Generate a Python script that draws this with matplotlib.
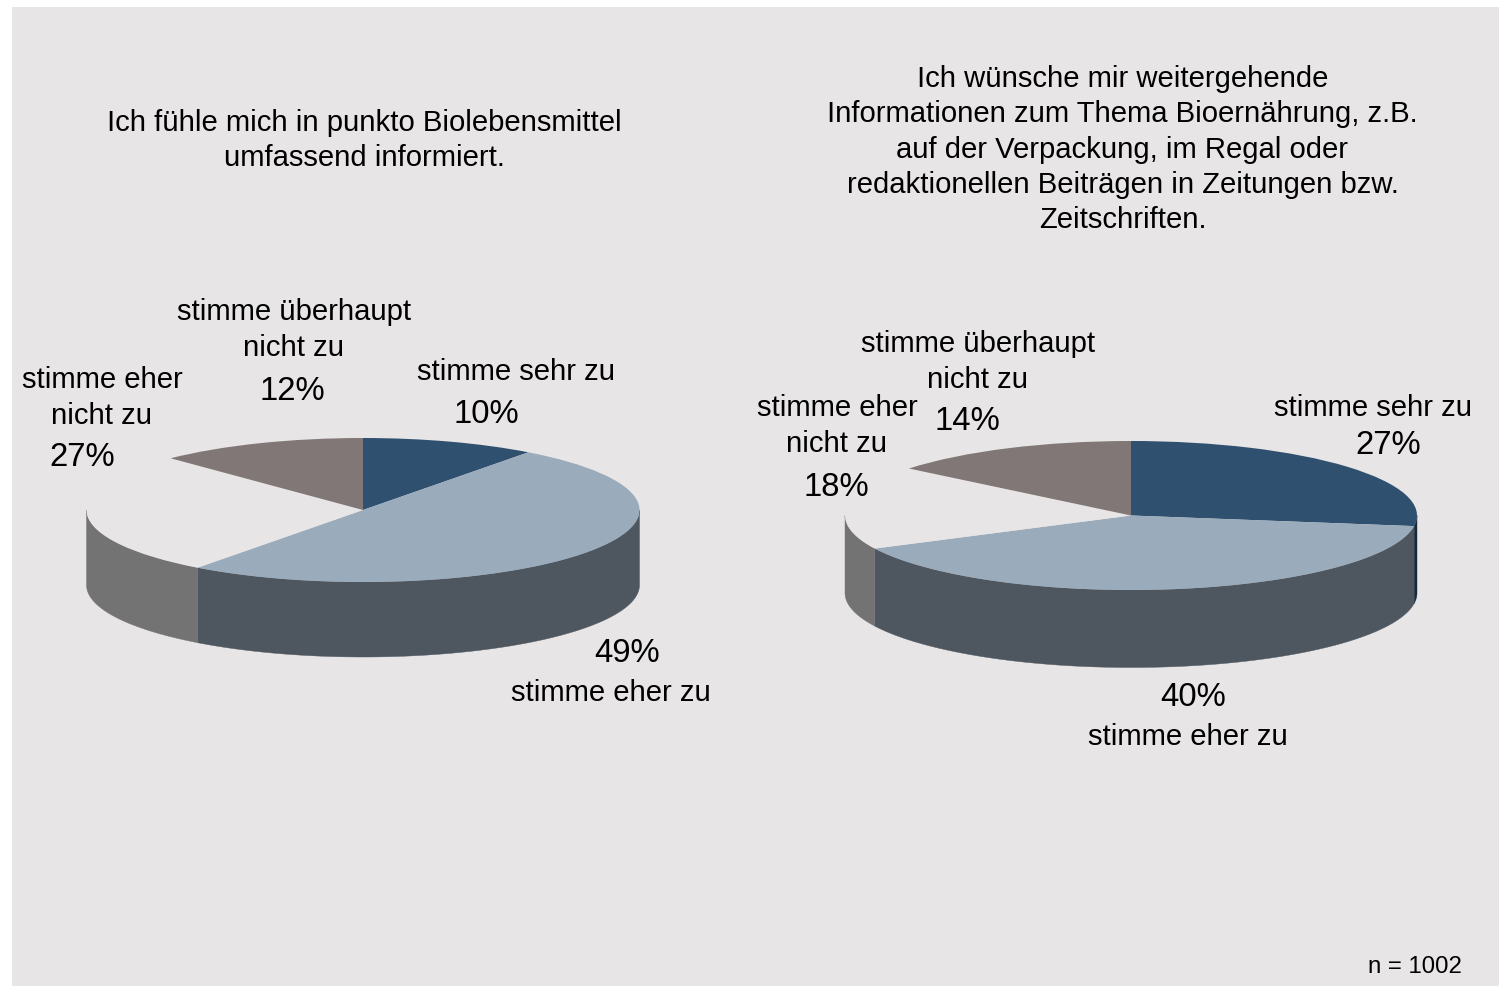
import numpy as np
import matplotlib
matplotlib.use('Agg')
import matplotlib.pyplot as plt
from matplotlib.patches import Wedge, Rectangle
from matplotlib.transforms import Affine2D

plt.rcParams['font.family'] = ['Liberation Sans', 'DejaVu Sans']

# data
answers = ['stimme sehr zu', 'stimme eher zu', 'stimme eher\nnicht zu', 'stimme überhaupt\nnicht zu']
values_left = [10, 49, 27, 12]
values_right = [27, 40, 18, 14]
title_left = 'Ich fühle mich in punkto Biolebensmittel\numfassend informiert.'
title_right = ('Ich wünsche mir weitergehende\n'
               'Informationen zum Thema Bioernährung, z.B.\n'
               'auf der Verpackung, im Regal oder\n'
               'redaktionellen Beiträgen in Zeitungen bzw.\n'
               'Zeitschriften.')
note = 'n = 1002'

# styles
BG = '#e7e5e5'
top_colors = ['#30506f', '#9aabbb', BG, '#817776']
side_colors = ['#162a3d', '#4e5660', '#737373', '#5a5252']

# layout in pixels: answer label (x, y), percent label (x, y)
layout_left = [((516.5, 372), (486, 414.5)), ((610.5, 693), (627, 654)),
               ((102, 398), (82, 458)), ((294, 330), (292, 392))]
layout_right = [((1373.5, 408), (1388, 445)), ((1187.5, 737), (1193, 698)),
                ((837, 426), (836, 487)), ((978, 362), (967, 422))]


def draw_pie(ax, values, cx, cy, rx, ry, depth):
    # slices run clockwise from 12 o'clock, y axis points down
    edges = np.cumsum([0] + values) / sum(values) * 360 - 90
    to_ax = Affine2D().scale(rx, ry).translate(cx, cy) + ax.transData
    for i in range(len(values)):
        a, b = max(edges[i], 0), min(edges[i + 1], 180)
        if a < b:
            t = np.radians(np.linspace(a, b, 200))
            xs = cx + rx * np.cos(t)
            ys = cy + ry * np.sin(t)
            ax.fill(np.r_[xs, xs[::-1]], np.r_[ys, ys[::-1] + depth],
                    color=side_colors[i], lw=0.3, zorder=2)
    for i in range(len(values)):
        ax.add_patch(Wedge((0, 0), 1, edges[i], edges[i + 1], transform=to_ax,
                           facecolor=top_colors[i], edgecolor='none', lw=0, zorder=3))


def draw_labels(ax, values, layout):
    for name, v, (pos_name, pos_pct) in zip(answers, values, layout):
        ax.text(*pos_name, name, ha='center', va='center', fontsize=21.05,
                linespacing=1.32, color='black', zorder=4)
        ax.text(*pos_pct, f'{v}%', ha='center', va='center', fontsize=23.7,
                color='black', zorder=4)


fig = plt.figure(figsize=(14.99, 9.86), dpi=100, facecolor='white')
ax = fig.add_axes([0, 0, 1, 1])
ax.set_xlim(0, 1499)
ax.set_ylim(986, 0)
ax.axis('off')
ax.add_patch(Rectangle((12, 7), 1487, 979, facecolor=BG, edgecolor='none', zorder=0))

draw_pie(ax, values_left, 363, 510, 276.5, 72, 75)
draw_pie(ax, values_right, 1131, 515.5, 286, 74.5, 77.5)
draw_labels(ax, values_left, layout_left)
draw_labels(ax, values_right, layout_right)

ax.text(364, 140.5, title_left, ha='center', va='center', fontsize=21.05, linespacing=1.32)
ax.text(1122.5, 149.5, title_right, ha='center', va='center', fontsize=21.05, linespacing=1.32)
ax.text(1415, 967, note, ha='center', va='center', fontsize=17.3)

fig.savefig('out.png', dpi=100)
